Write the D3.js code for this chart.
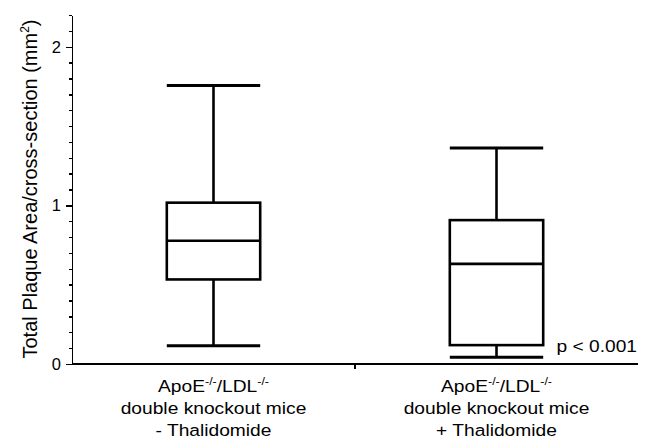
<!DOCTYPE html>
<html lang="en">
<head>
<meta charset="utf-8">
<title>Total plaque area box plot</title>
<style>
body { margin: 0; background: #fff; }
svg { font-family: "Liberation Sans", Arial, sans-serif; }
.axis path, .axis line { stroke: #000; stroke-width: 1.4; shape-rendering: crispEdges; }
.axis text { font-size: 16.5px; fill: #000; }
.box { fill: none; stroke: #000; stroke-width: 2.6; }
</style>
</head>
<body>
<div id="chart"></div>
<script src="https://d3js.org/d3.v7.min.js"></script>
<script>
  var groups = ["minus", "plus"];
  var groupLabels = [
    ["ApoE", "double knockout mice", "- Thalidomide"],
    ["ApoE", "double knockout mice", "+ Thalidomide"]
  ];
  var whiskerLow  = [0.115, 0.042];
  var q1          = [0.533, 0.119];
  var median      = [0.777, 0.631];
  var q3          = [1.017, 0.907];
  var whiskerHigh = [1.755, 1.362];
  var majorTicks = [0, 1, 2];
  var minorTicks = d3.range(0, 2.21, 0.1);
  var pText = "p < 0.001";

  var W = 647, H = 442;
  var plotLeft = 72, plotRight = 638, plotTop = 15, plotBottom = 364;
  var stretch = 1.13; // text in the source looks a bit wide

  var svg = d3.select("#chart").append("svg")
    .attr("width", W).attr("height", H);

  var y = d3.scaleLinear().domain([0, 2.2]).range([plotBottom, plotTop]);
  var x = d3.scaleBand().domain(groups).range([plotLeft, plotRight]);
  var boxW = x.bandwidth() * 0.33;

  // y axis with minor ticks
  svg.append("g").attr("class", "axis")
    .attr("transform", "translate(" + plotLeft + ",0)")
    .call(d3.axisLeft(y).tickValues(minorTicks).tickSize(3).tickFormat("").tickSizeOuter(0));
  svg.append("g").attr("class", "axis")
    .attr("transform", "translate(" + plotLeft + ",0)")
    .call(d3.axisLeft(y).tickValues(majorTicks).tickSize(6).tickPadding(5).tickFormat(d3.format("d")).tickSizeOuter(0))
    .select(".domain").remove();

  // x axis with a tick between categories
  var xAxis = svg.append("g").attr("class", "axis")
    .attr("transform", "translate(0," + plotBottom + ")");
  xAxis.append("line")
    .attr("x1", plotLeft).attr("x2", plotRight).attr("y1", 0).attr("y2", 0);
  xAxis.append("line")
    .attr("x1", x("plus")).attr("x2", x("plus")).attr("y1", 0).attr("y2", 5);

  // boxes
  var g = svg.selectAll(".grp").data(groups).enter().append("g");
  g.each(function(d, i) {
    var s = d3.select(this);
    var cx = x(d) + x.bandwidth() / 2;
    s.append("line").attr("class", "box")
      .attr("x1", cx).attr("x2", cx).attr("y1", y(whiskerHigh[i])).attr("y2", y(q3[i]));
    s.append("line").attr("class", "box")
      .attr("x1", cx).attr("x2", cx).attr("y1", y(q1[i])).attr("y2", y(whiskerLow[i]));
    s.append("line").attr("class", "box").style("stroke-width", 3)
      .attr("x1", cx - boxW / 2).attr("x2", cx + boxW / 2).attr("y1", y(whiskerHigh[i])).attr("y2", y(whiskerHigh[i]));
    s.append("line").attr("class", "box").style("stroke-width", 3)
      .attr("x1", cx - boxW / 2).attr("x2", cx + boxW / 2).attr("y1", y(whiskerLow[i])).attr("y2", y(whiskerLow[i]));
    s.append("rect").attr("class", "box")
      .attr("x", cx - boxW / 2).attr("width", boxW)
      .attr("y", y(q3[i])).attr("height", y(q1[i]) - y(q3[i]));
    s.append("line").attr("class", "box")
      .attr("x1", cx - boxW / 2).attr("x2", cx + boxW / 2).attr("y1", y(median[i])).attr("y2", y(median[i]));

    // category labels
    var t = s.append("g")
      .attr("transform", "translate(" + cx + ",0) scale(" + stretch + ",1)")
      .append("text").attr("text-anchor", "middle").attr("font-size", 17).attr("fill", "#000");
    var l1 = t.append("tspan").attr("x", 0).attr("y", 392);
    l1.append("tspan").text(groupLabels[i][0]);
    l1.append("tspan").attr("font-size", 11).attr("dy", -7).text("-/-");
    l1.append("tspan").attr("dy", 7).text("/LDL");
    l1.append("tspan").attr("font-size", 11).attr("dy", -7).text("-/-");
    t.append("tspan").attr("x", 0).attr("y", 414).text(groupLabels[i][1]);
    t.append("tspan").attr("x", 0).attr("y", 436).text(groupLabels[i][2]);
  });

  svg.append("g")
    .attr("transform", "translate(" + (plotRight - 1) + ",352) scale(" + stretch + ",1)")
    .append("text")
    .attr("text-anchor", "end").attr("font-size", 17)
    .text(pText);

  // y title
  var yt = svg.append("text")
    .attr("transform", "translate(37," + ((plotTop + plotBottom) / 2 - 0.5) + ") rotate(-90)")
    .attr("text-anchor", "middle").attr("font-size", 20);
  yt.append("tspan").text("Total Plaque Area/cross-section (mm");
  yt.append("tspan").attr("font-size", 12).attr("dy", -8).text("2");
  yt.append("tspan").attr("dy", 8).text(")");
</script>
</body>
</html>
